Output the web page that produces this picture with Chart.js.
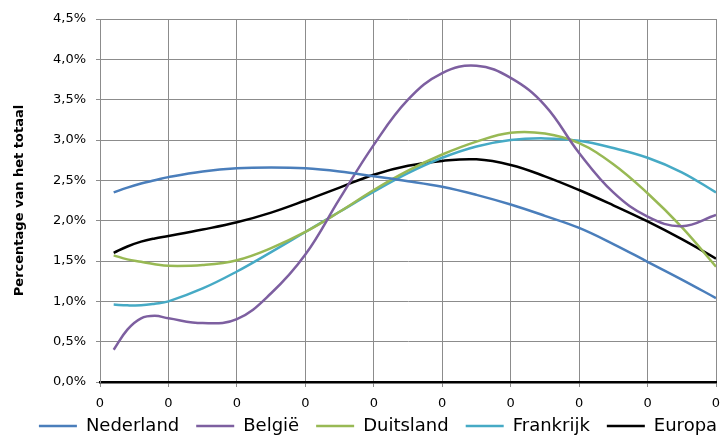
<!DOCTYPE html>
<html>
<head>
<meta charset="utf-8">
<script src="https://cdn.jsdelivr.net/npm/chart.js@4/dist/chart.umd.min.js"></script>
<style>
  html, body { margin: 0; padding: 0; background: #fff; overflow: hidden; }
  #wrap { width: 724px; height: 436px; }
</style>
</head>
<body>
<div id="wrap"><canvas id="myChart" width="724" height="436"></canvas></div>
<script>
// positions along the (unlabelled) horizontal axis
var xPos = [0.2, 0.4, 0.6, 0.8, 1.0, 1.5, 2.0, 2.5, 3.0, 3.5, 4.0, 4.5, 5.0, 5.5, 6.0, 6.5, 7.0, 7.5, 8.0, 8.5, 9.0];

// percentages (van het totaal)
var nederland  = [2.35, 2.41, 2.46, 2.50, 2.54, 2.61, 2.65, 2.66, 2.65, 2.61, 2.55, 2.49, 2.42, 2.32, 2.20, 2.06, 1.91, 1.71, 1.49, 1.27, 1.04];
var belgie     = [0.40, 0.65, 0.79, 0.82, 0.79, 0.73, 0.78, 1.10, 1.58, 2.27, 2.94, 3.50, 3.83, 3.92, 3.77, 3.43, 2.84, 2.35, 2.05, 1.93, 2.07];
var duitsland  = [1.57, 1.52, 1.49, 1.46, 1.44, 1.45, 1.51, 1.66, 1.86, 2.11, 2.38, 2.62, 2.82, 2.98, 3.09, 3.08, 2.96, 2.70, 2.34, 1.92, 1.43];
var frankrijk  = [0.96, 0.95, 0.95, 0.97, 1.00, 1.16, 1.37, 1.61, 1.86, 2.11, 2.36, 2.59, 2.78, 2.92, 3.00, 3.02, 2.99, 2.90, 2.78, 2.60, 2.35];
var europa     = [1.60, 1.68, 1.74, 1.78, 1.81, 1.89, 1.98, 2.10, 2.25, 2.41, 2.57, 2.68, 2.74, 2.76, 2.69, 2.55, 2.38, 2.19, 1.99, 1.77, 1.53];

var seriesNames = ['Nederland', 'België', 'Duitsland', 'Frankrijk', 'Europa'];
var seriesColors = ['#4a7ebb', '#7d5fa0', '#98b954', '#46aac5', '#000000'];
var seriesValues = [nederland, belgie, duitsland, frankrijk, europa];

var xTickLabel = '0';
var yMax = 4.5;
var yStep = 0.5;

var gridGray = '#8c8c8c';
var fontFam = '"DejaVu Sans", Verdana, sans-serif';

function toPoints(vals) {
    var pts = [];
    for (var i = 0; i < vals.length; i++) {
        pts.push({ x: xPos[i], y: vals[i] });
    }
    return pts;
}

var datasets = [];
for (var i = 0; i < seriesNames.length; i++) {
    datasets.push({
        label: seriesNames[i],
        data: toPoints(seriesValues[i]),
        borderColor: seriesColors[i],
        backgroundColor: seriesColors[i],
        borderWidth: 2.5,
        pointRadius: 0,
        tension: 0.4,
        fill: false
    });
}

// the legend in the original runs off to the right, so nudge it a bit
var legendNudge = {
    id: 'legendNudge',
    afterLayout: function (chart) {
        var lg = chart.legend;
        if (!lg) return;
        lg.left += 17; lg.right += 17;
        lg.top -= 9; lg.bottom -= 9;
    }
};

var ctx = document.getElementById('myChart').getContext('2d');
var myChart = new Chart(ctx, {
    type: 'line',
    data: { datasets: datasets },
    plugins: [legendNudge],
    options: {
        responsive: false,
        animation: false,
        layout: { padding: { left: 0, right: 2, top: 19, bottom: -18 } },
        plugins: {
            tooltip: { enabled: false },
            legend: {
                position: 'bottom',
                labels: {
                    color: '#000',
                    font: { family: fontFam, size: 18 },
                    usePointStyle: true,
                    pointStyle: 'line',
                    pointStyleWidth: 38,
                    boxHeight: 2,
                    padding: 17
                }
            }
        },
        scales: {
            x: {
                type: 'linear',
                min: 0,
                max: 9,
                ticks: {
                    stepSize: 1,
                    color: '#000',
                    font: { family: fontFam, size: 13 },
                    padding: 9,
                    maxRotation: 0,
                    callback: function () { return xTickLabel; }
                },
                grid: { color: gridGray, lineWidth: 1, tickLength: 5 },
                border: { color: '#000', width: 2.5 },
                afterFit: function (scale) {
                    scale.height = 27;
                    scale.paddingLeft = 0;
                    scale.paddingRight = 8;
                }
            },
            y: {
                min: 0,
                max: yMax,
                ticks: {
                    stepSize: yStep,
                    color: '#000',
                    font: { family: fontFam, size: 13 },
                    padding: 10,
                    callback: function (v) { return v.toFixed(1).replace('.', ',') + '%'; }
                },
                title: {
                    display: true,
                    text: 'Percentage van het totaal',
                    color: '#000',
                    font: { family: fontFam, size: 13, weight: 'bold' },
                    padding: { top: 12, bottom: 0 }
                },
                grid: { color: gridGray, lineWidth: 1, tickLength: 4 },
                border: { color: gridGray, width: 1 },
                afterFit: function (scale) { scale.width = 100; }
            }
        }
    }
});
</script>
</body>
</html>
